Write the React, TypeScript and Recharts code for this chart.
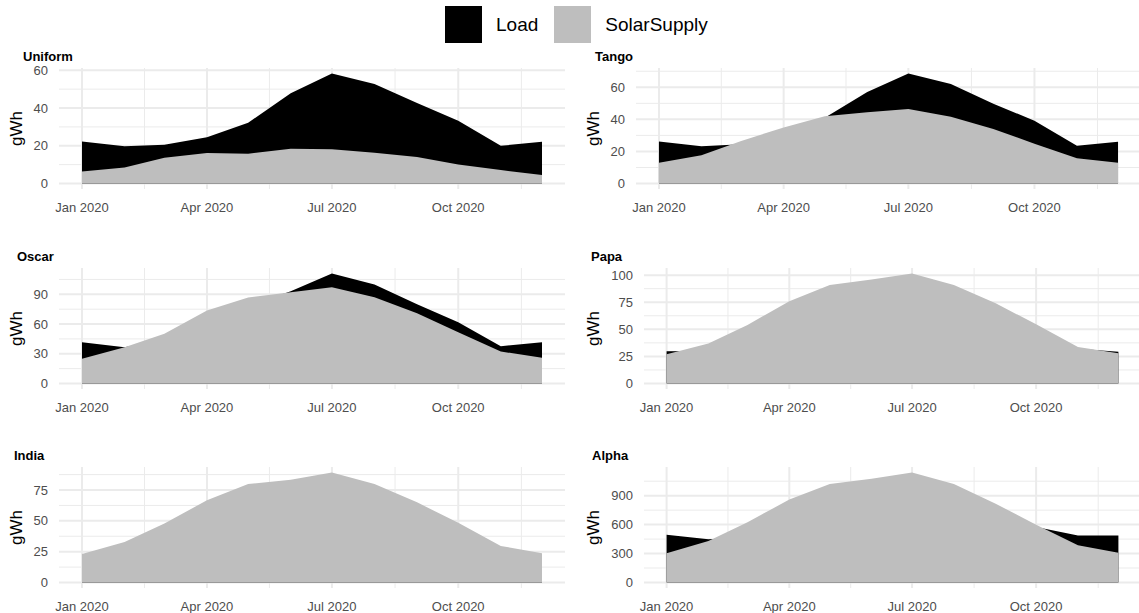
import React from 'react';
import { AreaChart, Area, XAxis, YAxis, CartesianGrid } from 'recharts';

// monthly observations, first day of each month
const months = [
  '2020-01-01', '2020-02-01', '2020-03-01', '2020-04-01', '2020-05-01', '2020-06-01',
  '2020-07-01', '2020-08-01', '2020-09-01', '2020-10-01', '2020-11-01', '2020-12-01',
];
const tickDates = ['2020-01-01', '2020-04-01', '2020-07-01', '2020-10-01'];
const tickLabels = ['Jan 2020', 'Apr 2020', 'Jul 2020', 'Oct 2020'];
const nextYear = '2021-01-01';

const uniformLoad = [22.3, 19.7, 20.5, 24.5, 32.2, 47.8, 58.3, 52.7, 42.6, 33.2, 20.0, 22.1];
const uniformSolar = [6.3, 8.5, 13.6, 16.2, 15.8, 18.4, 18.1, 16.3, 14.1, 10.1, 7.1, 4.5];
const uniformTicks = [0, 20, 40, 60];

const tangoLoad = [26.2, 23.2, 24.5, 31, 41, 57, 68.6, 62.1, 49.8, 39.1, 23.6, 26];
const tangoSolar = [12.9, 17.6, 26.5, 35, 42, 44.5, 46.5, 41.6, 34, 24.8, 15.8, 12.9];
const tangoTicks = [0, 20, 40, 60];

const oscarLoad = [41.7, 36.5, 44, 60, 78, 93, 111, 100, 80, 61.7, 37.7, 41.7];
const oscarSolar = [25, 36.7, 50.3, 73.7, 86.7, 92, 97, 87, 71, 51.7, 32.3, 26];
const oscarTicks = [0, 30, 60, 90];

const papaLoad = [29.8, 30, 33, 38, 45, 52, 58, 55, 47, 40, 32, 29.3];
const papaSolar = [27, 37, 54, 76, 90.8, 96, 101.5, 90.8, 74, 54.6, 33.7, 28];
const papaTicks = [0, 25, 50, 75, 100];

const indiaLoad = [14, 13, 13, 14, 16, 19, 21, 20, 17, 15, 14, 14];
const indiaSolar = [23.1, 32.8, 47.8, 66.7, 79.8, 83.3, 89.2, 79.8, 65, 48.4, 29.6, 23.7];
const indiaTicks = [0, 25, 50, 75];

const alphaLoad = [495, 447, 470, 480, 500, 540, 560, 540, 520, 574, 488, 488];
const alphaSolar = [302, 430, 625, 859, 1020, 1075, 1140, 1020, 817, 598, 385, 309];
const alphaTicks = [0, 300, 600, 900];

const FONT = '"Liberation Sans", Arial, Helvetica, sans-serif';
const GRID = '#EBEBEB';
const LOAD_FILL = '#000000';
const SOLAR_FILL = '#BEBEBE';

const DAY = 86400000;
const toDay = (s: string) => Date.parse(s) / DAY;
const monthDays = months.map(toDay);
const firstDay = monthDays[0];
const lastDay = monthDays[monthDays.length - 1];
const xPad = (lastDay - firstDay) * 0.05;
const xDomain: [number, number] = [firstDay - xPad, lastDay + xPad];
const majorX = tickDates.map(toDay);
const minorX = majorX.map((d, i) => (d + (i + 1 < majorX.length ? majorX[i + 1] : toDay(nextYear))) / 2);

const PANEL_H = 121;
const TOP_PAD = 12;
const AXIS_H = 32;
const rowTops = [68, 268, 467];

interface Site {
  name: string;
  load: number[];
  solar: number[];
  ticks: number[];
  col: number;
  row: number;
  panelLeft: number;
  titleX: number;
}

const sites: Site[] = [
  { name: 'Uniform', load: uniformLoad, solar: uniformSolar, ticks: uniformTicks, col: 0, row: 0, panelLeft: 59, titleX: 23 },
  { name: 'Tango', load: tangoLoad, solar: tangoSolar, ticks: tangoTicks, col: 1, row: 0, panelLeft: 636, titleX: 595 },
  { name: 'Oscar', load: oscarLoad, solar: oscarSolar, ticks: oscarTicks, col: 0, row: 1, panelLeft: 59, titleX: 17 },
  { name: 'Papa', load: papaLoad, solar: papaSolar, ticks: papaTicks, col: 1, row: 1, panelLeft: 644, titleX: 591 },
  { name: 'India', load: indiaLoad, solar: indiaSolar, ticks: indiaTicks, col: 0, row: 2, panelLeft: 59, titleX: 14 },
  { name: 'Alpha', load: alphaLoad, solar: alphaSolar, ticks: alphaTicks, col: 1, row: 2, panelLeft: 644, titleX: 592 },
];

const cellLefts = [0, 570];
const panelRights = [565, 1141];

function SitePanel({ site }: { site: Site }) {
  const cellLeft = cellLefts[site.col];
  const width = panelRights[site.col] - cellLeft;
  const top = rowTops[site.row];
  const rows = monthDays.map((day, i) => ({ day, Load: site.load[i], SolarSupply: site.solar[i] }));

  const yMax = Math.max(...site.load, ...site.solar);
  const yDomain: [number, number] = [-0.05 * yMax, 1.05 * yMax];
  const step = site.ticks[1] - site.ticks[0];
  const minorY = site.ticks.map((t) => t + step / 2).filter((v) => v < yDomain[1]);

  return (
    <>
      <div
        style={{
          position: 'absolute',
          left: site.titleX,
          top: top - 11 - 8,
          lineHeight: '16px',
          fontSize: 13,
          fontWeight: 'bold',
          color: '#000',
          fontFamily: FONT,
        }}
      >
        {site.name}
      </div>
      <div style={{ position: 'absolute', left: cellLeft, top: top - TOP_PAD }}>
        <AreaChart
          width={width}
          height={TOP_PAD + PANEL_H + AXIS_H}
          data={rows}
          margin={{ top: TOP_PAD, right: 0, bottom: 0, left: 0 }}
        >
          <CartesianGrid stroke={GRID} strokeWidth={1} horizontalValues={minorY} verticalValues={minorX} />
          <CartesianGrid stroke={GRID} strokeWidth={2} horizontalValues={site.ticks} verticalValues={majorX} />
          <XAxis
            dataKey="day"
            type="number"
            domain={xDomain}
            allowDataOverflow
            ticks={majorX}
            tickFormatter={(v: number) => tickLabels[majorX.indexOf(v)] ?? ''}
            axisLine={false}
            tickLine={false}
            tickMargin={8}
            height={AXIS_H}
            tick={{ fill: '#4D4D4D', fontSize: 13, fontFamily: FONT }}
          />
          <YAxis
            type="number"
            domain={yDomain}
            allowDataOverflow
            ticks={site.ticks}
            width={site.panelLeft - cellLeft}
            axisLine={false}
            tickLine={false}
            tickMargin={5}
            tick={{ fill: '#4D4D4D', fontSize: 13, fontFamily: FONT }}
            label={{
              value: 'gWh',
              angle: -90,
              position: 'insideLeft',
              offset: site.col === 0 ? 16 : 23,
              style: { textAnchor: 'middle', fontSize: 17, fill: '#000', fontFamily: FONT },
            }}
          />
          <Area
            type="linear"
            dataKey="Load"
            fill={LOAD_FILL}
            fillOpacity={1}
            stroke="none"
            activeDot={false}
            isAnimationActive={false}
          />
          <Area
            type="linear"
            dataKey="SolarSupply"
            fill={SOLAR_FILL}
            fillOpacity={1}
            stroke="none"
            activeDot={false}
            isAnimationActive={false}
          />
        </AreaChart>
      </div>
    </>
  );
}

function LegendKey({ color, label }: { color: string; label: string }) {
  return (
    <div style={{ display: 'flex', alignItems: 'center' }}>
      <div style={{ width: 37, height: 37, background: color }} />
      <span style={{ marginLeft: 14, marginRight: 16, fontSize: 19, color: '#000' }}>{label}</span>
    </div>
  );
}

export default function App() {
  return (
    <div
      style={{
        position: 'absolute',
        left: 0,
        top: 0,
        width: 1139,
        height: 613,
        overflow: 'hidden',
        background: '#fff',
        fontFamily: FONT,
      }}
    >
      <div style={{ position: 'absolute', left: 445, top: 6, display: 'flex' }}>
        <LegendKey color={LOAD_FILL} label="Load" />
        <LegendKey color={SOLAR_FILL} label="SolarSupply" />
      </div>
      {sites.map((s) => (
        <SitePanel key={s.name} site={s} />
      ))}
    </div>
  );
}
